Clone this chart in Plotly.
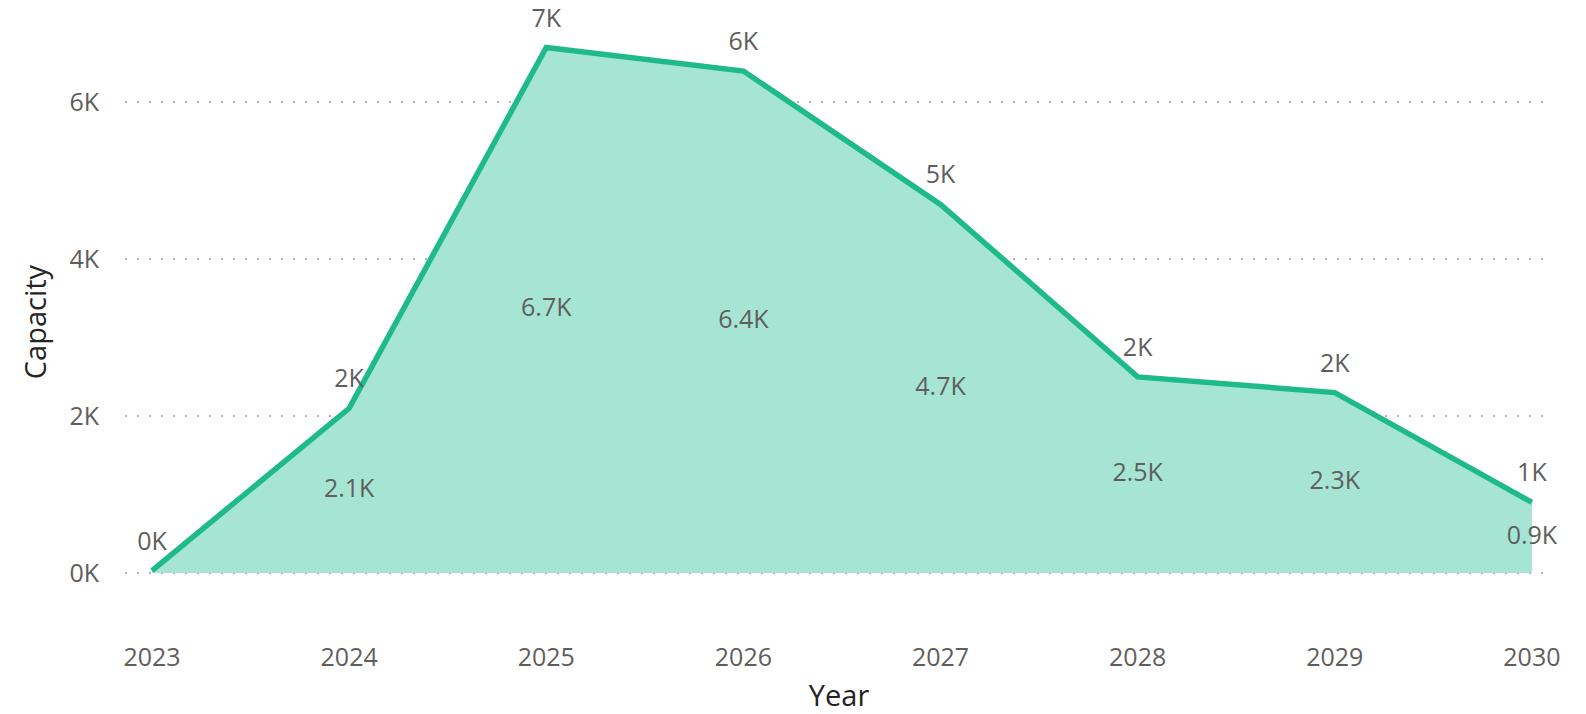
import plotly.graph_objects as go

# Capacity by year
years = [2023, 2024, 2025, 2026, 2027, 2028, 2029, 2030]
capacity = [30, 2100, 6700, 6400, 4700, 2500, 2300, 900]

# Rounded labels on the line, one-decimal labels inside the area
top_labels = [f"{round(v / 1000):.0f}K" for v in capacity]
inner_labels = [f"{v / 1000:.1f}K" for v in capacity]
inner_labels[0] = ""  # too close to the baseline to show

y_ticks = [0, 2000, 4000, 6000]
y_tick_text = ["0K", "2K", "4K", "6K"]

LINE = "rgb(30,186,137)"
FILL = "rgb(166,229,212)"
LABEL = "#605E5C"
TITLE = "#252423"
FONT = "Open Sans"

fig = go.Figure()

fig.add_trace(go.Scatter(
    x=years, y=capacity,
    mode="lines+markers+text",
    fill="tozeroy",
    fillcolor=FILL,
    line=dict(color=LINE, width=5.5),
    marker=dict(size=22, color="rgba(0,0,0,0)"),
    text=top_labels,
    textposition="top center",
    textfont=dict(family=FONT, size=25, color=LABEL),
    hoverinfo="skip",
    cliponaxis=False,
))

fig.add_trace(go.Scatter(
    x=years, y=[v / 2 for v in capacity],
    mode="text",
    text=inner_labels,
    textposition="middle center",
    textfont=dict(family=FONT, size=25, color=LABEL),
    hoverinfo="skip",
    cliponaxis=False,
))

fig.update_layout(
    width=1586, height=714,
    margin=dict(l=125, r=33, t=24, b=94),
    paper_bgcolor="white",
    plot_bgcolor="white",
    showlegend=False,
    font=dict(family=FONT, color=LABEL),
)

fig.update_xaxes(
    range=[2022.863, 2030.107],
    tickmode="array", tickvals=years, ticktext=[str(y) for y in years],
    tickfont=dict(family=FONT, size=25, color=LABEL),
    ticks="outside", ticklen=15, tickcolor="rgba(0,0,0,0)",
    showgrid=False, zeroline=False, showline=False,
    automargin=False,
    title=dict(text="Year", font=dict(family=FONT, size=29, color=TITLE), standoff=16),
)

fig.update_yaxes(
    range=[-600, 7000],
    tickmode="array", tickvals=y_ticks, ticktext=y_tick_text,
    tickfont=dict(family=FONT, size=25, color=LABEL),
    ticks="outside", ticklen=20, tickcolor="rgba(0,0,0,0)",
    showgrid=True, gridcolor="#B4B2B0", gridwidth=2, griddash="2px,10px",
    zeroline=False, showline=False,
    automargin=False,
    title=dict(text="Capacity", font=dict(family=FONT, size=29, color=TITLE), standoff=14),
)

fig.write_html("out.html")
